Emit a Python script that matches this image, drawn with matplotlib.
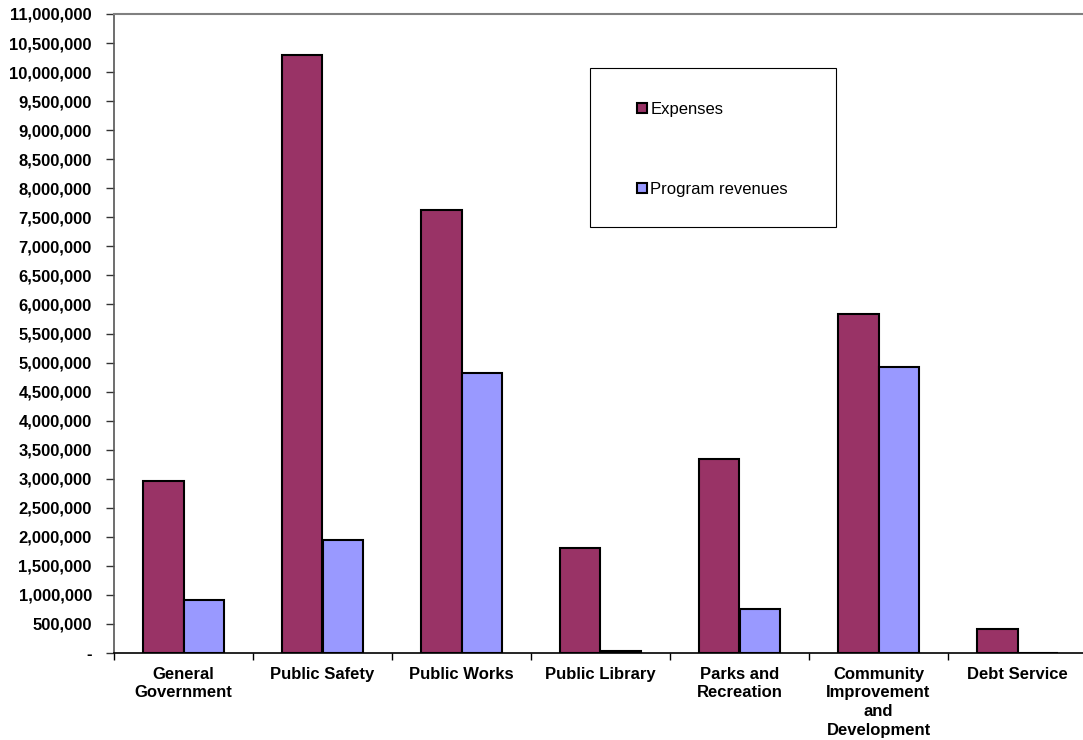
import numpy as np
import matplotlib.pyplot as plt
from matplotlib.patches import Rectangle
from matplotlib.ticker import FuncFormatter, MultipleLocator

plt.rcParams["font.family"] = ["Liberation Sans", "DejaVu Sans"]

categories = [
    "General\nGovernment",
    "Public Safety",
    "Public Works",
    "Public Library",
    "Parks and\nRecreation",
    "Community\nImprovement\nand\nDevelopment",
    "Debt Service",
]
expenses = [2960000, 10300000, 7620000, 1810000, 3340000, 5830000, 410000]
program_revenues = [910000, 1945000, 4820000, 40000, 760000, 4920000, 0]


def tick_fmt(v, pos):
    if v == 0:
        return "-"
    return f"{v:,.0f}"


fig = plt.figure(figsize=(10.83, 7.40), dpi=100)
ax = fig.add_axes([114 / 1083, (740 - 653) / 740, 973 / 1083, 639 / 740])

x = np.arange(len(categories))
w = 0.288
ax.bar(x - w / 2, expenses, width=w, color="#993366", edgecolor="black",
       linewidth=1.5, label="Expenses")
ax.bar(x + w / 2, program_revenues, width=w, color="#9999FF", edgecolor="black",
       linewidth=1.5, label="Program revenues")

ax.set_xlim(-0.5, len(categories) - 0.5)
ax.set_ylim(0, 11000000)
ax.yaxis.set_major_locator(MultipleLocator(500000))
ax.yaxis.set_major_formatter(FuncFormatter(tick_fmt))
for lab in ax.get_yticklabels():
    lab.set_fontweight("bold")
ax.tick_params(axis="y", labelsize=12, length=6, width=1, color="#333333", pad=10)

ax.set_xticks(np.arange(len(categories) + 1) - 0.5)
ax.set_xticklabels([])
ax.set_xticks(x, minor=True)
ax.set_xticklabels(categories, minor=True, fontsize=12, fontweight="bold",
                   linespacing=1.3)
ax.tick_params(axis="x", which="minor", length=0, pad=10)
ax.tick_params(axis="x", which="major", length=5, width=1)

ax.spines["top"].set_color("#808080")
ax.spines["top"].set_linewidth(1.5)
ax.spines["left"].set_color("#555555")
ax.spines["left"].set_linewidth(1.2)
ax.spines["bottom"].set_linewidth(1.2)
ax.spines["right"].set_visible(False)

# legend box drawn separately so its size matches the original
fig.add_artist(Rectangle((590 / 1083, (740 - 227) / 740), 246 / 1083, 159 / 740,
                         transform=fig.transFigure, facecolor="white",
                         edgecolor="black", linewidth=0.8, zorder=3))
leg = fig.legend(*ax.get_legend_handles_labels(), loc="upper left",
                 bbox_to_anchor=(637 / 1083, (740 - 102) / 740),
                 fontsize=12, frameon=False, borderpad=0, labelspacing=3.9,
                 handlelength=0.6, handleheight=0.6, handletextpad=0.2,
                 borderaxespad=0)
leg.set_zorder(4)

fig.savefig("out.png", dpi=100)
